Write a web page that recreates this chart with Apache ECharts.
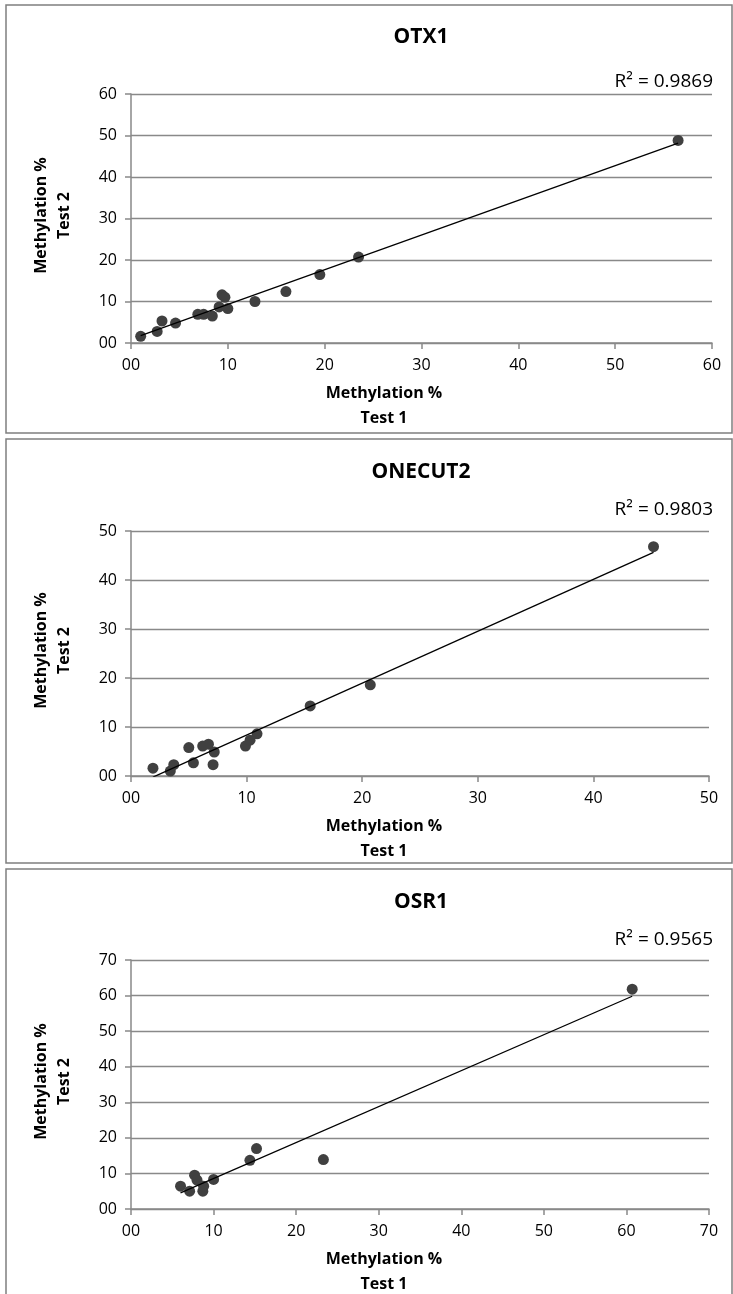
<!DOCTYPE html>
<html>
<head>
<meta charset="utf-8">
<script src="https://cdn.jsdelivr.net/npm/echarts@6/dist/echarts.min.js"></script>
<style>
    html, body { margin: 0; padding: 0; background: #fff; }
    #main { width: 733px; height: 1294px; }
</style>
</head>
<body>
<div id="main"></div>
<script>
// OTX1
const otx1Test1 = [1.0, 2.7, 3.2, 4.6, 6.9, 7.5, 8.4, 9.1, 9.4, 9.7, 10.0, 12.8, 16.0, 19.5, 23.5, 56.5];
const otx1Test2 = [1.6, 2.8, 5.3, 4.8, 6.9, 6.9, 6.5, 8.7, 11.6, 11.0, 8.3, 10.0, 12.4, 16.5, 20.7, 48.8];
// ONECUT2
const onecutTest1 = [1.9, 3.4, 3.7, 5.0, 5.4, 6.2, 6.7, 7.2, 7.1, 9.9, 10.3, 10.9, 15.5, 20.7, 45.2];
const onecutTest2 = [1.6, 1.0, 2.3, 5.8, 2.7, 6.1, 6.5, 4.9, 2.3, 6.1, 7.3, 8.6, 14.3, 18.6, 46.8];
// OSR1
const osr1Test1 = [6.0, 7.1, 7.7, 8.0, 8.7, 8.8, 10.0, 14.4, 15.2, 23.3, 60.7];
const osr1Test2 = [6.4, 5.0, 9.5, 8.1, 5.0, 6.4, 8.3, 13.7, 17.0, 13.9, 61.8];

const titles = ['OTX1', 'ONECUT2', 'OSR1'];
const rSquared = ['R² = 0.9869', 'R² = 0.9803', 'R² = 0.9565'];
const axisMax = [60, 50, 70];

const panels = [
    { x: otx1Test1, y: otx1Test2, top: 94, height: 249, right: 21, box: [6, 5, 730, 433], titleY: 37, r2Y: 82 },
    { x: onecutTest1, y: onecutTest2, top: 531, height: 245, right: 24, box: [6, 439, 730, 863], titleY: 472, r2Y: 510 },
    { x: osr1Test1, y: osr1Test2, top: 960, height: 249, right: 24, box: [6, 869, 730, 1310], titleY: 902, r2Y: 940 }
];

// least squares fit, drawn from min x to max x like excel trendline
function trend(xs, ys) {
    let n = xs.length, sx = 0, sy = 0, sxy = 0, sxx = 0;
    for (let i = 0; i < n; i++) {
        sx += xs[i]; sy += ys[i]; sxy += xs[i] * ys[i]; sxx += xs[i] * xs[i];
    }
    let b = (n * sxy - sx * sy) / (n * sxx - sx * sx);
    let a = (sy - b * sx) / n;
    let lo = Math.min(...xs), hi = Math.max(...xs);
    return [[lo, a + b * lo], [hi, a + b * hi]];
}

const font = '"Open Sans", Lato, sans-serif';
const gray = '#898989';

let grids = [], xAxes = [], yAxes = [], series = [], graphics = [];
panels.forEach((p, i) => {
    grids.push({ left: 131, right: p.right, top: p.top, height: p.height });
    let axisCommon = {
        gridIndex: i,
        type: 'value',
        min: 0,
        max: axisMax[i],
        interval: 10,
        axisLine: { show: true, lineStyle: { color: gray, width: 1.5 } },
        axisTick: { show: true, inside: false, length: 6, lineStyle: { color: gray, width: 1.5 } },
        axisLabel: {
            color: '#000',
            fontSize: 16,
            fontFamily: font,
            formatter: v => (v < 10 ? '0' : '') + v
        }
    };
    xAxes.push(Object.assign({}, axisCommon, {
        splitLine: { show: false },
        axisLabel: Object.assign({}, axisCommon.axisLabel, { margin: 14 })
    }));
    yAxes.push(Object.assign({}, axisCommon, {
        splitLine: { show: true, lineStyle: { color: gray, width: 1.3 } },
        axisLabel: Object.assign({}, axisCommon.axisLabel, { margin: 14 })
    }));
    series.push({
        type: 'scatter',
        xAxisIndex: i,
        yAxisIndex: i,
        symbolSize: 11,
        itemStyle: { color: '#404040', opacity: 1 },
        data: p.x.map((v, k) => [v, p.y[k]]),
        z: 3
    });
    series.push({
        type: 'line',
        xAxisIndex: i,
        yAxisIndex: i,
        showSymbol: false,
        lineStyle: { color: '#000', width: 1.3 },
        data: trend(p.x, p.y),
        z: 4
    });

    let b = p.box;
    graphics.push({
        type: 'rect',
        shape: { x: b[0], y: b[1], width: b[2] - b[0] + 2, height: b[3] - b[1] },
        style: { fill: 'none', stroke: '#7f7f7f', lineWidth: 1.5 }
    });
    graphics.push({
        type: 'text', x: 421, y: p.titleY,
        style: { text: titles[i], font: 'bold 21px ' + font, fill: '#000', align: 'center', verticalAlign: 'middle' }
    });
    graphics.push({
        type: 'text', x: 713, y: p.r2Y,
        style: { text: rSquared[i], font: '19px ' + font, fill: '#000', align: 'right', verticalAlign: 'middle' }
    });
    let axisBottom = p.top + p.height;
    graphics.push({
        type: 'text', x: 384, y: axisBottom + 50,
        style: { text: 'Methylation %', font: 'bold 16px ' + font, fill: '#000', align: 'center', verticalAlign: 'middle' }
    });
    graphics.push({
        type: 'text', x: 384, y: axisBottom + 75,
        style: { text: 'Test 1', font: 'bold 16px ' + font, fill: '#000', align: 'center', verticalAlign: 'middle' }
    });
    graphics.push({
        type: 'text', x: 53, y: p.top + p.height / 2 - 3,
        rotation: Math.PI / 2,
        style: { text: 'Methylation %\nTest 2', font: 'bold 16px ' + font, lineHeight: 23, fill: '#000', align: 'center', verticalAlign: 'middle' }
    });
});

var myChart = echarts.init(document.getElementById('main'));
myChart.setOption({
    animation: false,
    grid: grids,
    xAxis: xAxes,
    yAxis: yAxes,
    series: series,
    graphic: graphics
});
</script>
</body>
</html>
